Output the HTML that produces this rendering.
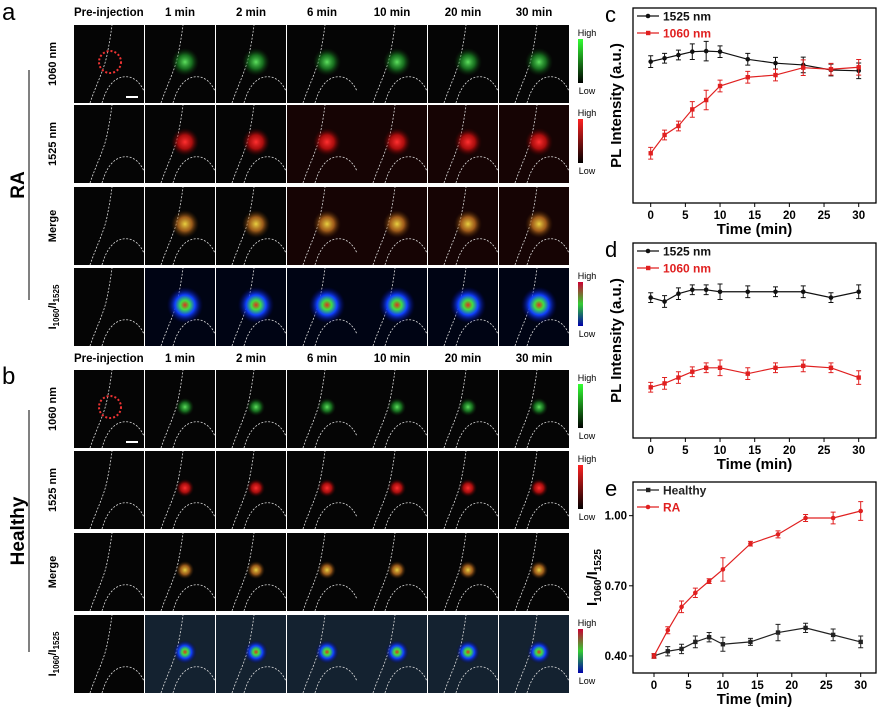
<!DOCTYPE html>
<html><head><meta charset="utf-8"><style>
body{margin:0;background:#fff}
svg{display:block;font-family:"Liberation Sans",Arial,sans-serif}
</style></head><body>
<svg id="fig" width="880" height="707" viewBox="0 0 880 707" xmlns="http://www.w3.org/2000/svg">
<defs>
<radialGradient id="gG"><stop offset="0" stop-color="#5ee05e"/><stop offset="0.5" stop-color="#1f9a2a" stop-opacity="0.7"/><stop offset="1" stop-color="#0a300a" stop-opacity="0"/></radialGradient>
<radialGradient id="gR"><stop offset="0" stop-color="#ff3030"/><stop offset="0.5" stop-color="#d01010" stop-opacity="0.8"/><stop offset="1" stop-color="#400000" stop-opacity="0"/></radialGradient>
<radialGradient id="gM"><stop offset="0" stop-color="#e8d040"/><stop offset="0.5" stop-color="#c07020" stop-opacity="0.8"/><stop offset="1" stop-color="#402000" stop-opacity="0"/></radialGradient>
<radialGradient id="gQ"><stop offset="0" stop-color="#e03020"/><stop offset="0.25" stop-color="#40e040"/><stop offset="0.55" stop-color="#1040ff"/><stop offset="1" stop-color="#000060" stop-opacity="0"/></radialGradient>
<linearGradient id="cbG" x1="0" y1="0" x2="0" y2="1"><stop offset="0" stop-color="#3f3"/><stop offset="1" stop-color="#000"/></linearGradient>
<linearGradient id="cbR" x1="0" y1="0" x2="0" y2="1"><stop offset="0" stop-color="#f22"/><stop offset="1" stop-color="#000"/></linearGradient>
<linearGradient id="cbQ" x1="0" y1="0" x2="0" y2="1"><stop offset="0" stop-color="#c03"/><stop offset="0.5" stop-color="#3c3"/><stop offset="1" stop-color="#00a"/></linearGradient>
</defs>
<g id="panels"></g>
<g id="charts"></g>
</svg>
<script>
const NS="http://www.w3.org/2000/svg";
const svg=document.getElementById('fig');
function mk(tag,attrs,parent,text){const e=document.createElementNS(NS,tag);for(const k in attrs)e.setAttribute(k,attrs[k]);if(text!==undefined)e.textContent=text;(parent||svg).appendChild(e);return e;}

// ---------- Image grid ----------
const colTitles=["Pre-injection","1 min","2 min","6 min","10 min","20 min","30 min"];
const rowLabels=["1060 nm","1525 nm","Merge","ratio"];
const colX=[74,145,216,287,357,428,499];
const rowsA=[25,105,187,268];
const rowsB=[370,451,533,615];
const fills=["gG","gR","gM","gQ"];
const cbFills=["cbG","cbR",null,"cbQ"];
const pg=document.getElementById('panels');
function block(rows,titleY,big,sizeScale,letter,letterY,group,lineY1,lineY2){
  const t=mk('text',{x:2,y:letterY,'font-size':24},pg,letter);
  
  colTitles.forEach((c,i)=>{const e=mk('text',{x:colX[i]+(i==0?0:35),y:titleY,'font-size':11.5,'font-weight':'bold','text-anchor':i==0?'start':'middle'},pg,c);
    });
  const g=mk('text',{transform:`translate(24,${(lineY1+lineY2)/2}) rotate(-90)`,'font-size':19,'font-weight':'bold','text-anchor':'middle'},pg,group);
  
  mk('line',{x1:29,x2:29,y1:lineY1,y2:lineY2,stroke:'#000','stroke-width':1},pg);
  rows.forEach((ry,r)=>{
    let lab;
    if(r<3){lab=mk('text',{transform:`translate(56,${ry+39}) rotate(-90)`,'font-size':11,'font-weight':'bold','text-anchor':'middle'},pg,rowLabels[r]);}
    else{lab=mk('text',{transform:`translate(56,${ry+39}) rotate(-90)`,'font-size':11,'font-weight':'bold','text-anchor':'middle'},pg);
      mk('tspan',{},lab,'I');mk('tspan',{'font-size':8,dy:3},lab,'1060');mk('tspan',{dy:-3},lab,'/I');mk('tspan',{'font-size':8,dy:3},lab,'1525');}
    
    colX.forEach((cx,c)=>{
      const p=mk('g',{},pg);
      
      let bg='#050505'; if(big&&r==3&&c>0)bg='#000414'; if(big&&r>0&&r<3&&c>2)bg='#160404';
      if(!big&&r==3&&c>0)bg='#142230';
      mk('rect',{x:cx,y:ry,width:70,height:78,fill:bg},p);
      mk('path',{d:`M${cx+16},${ry+78} C${cx+22},${ry+60} ${cx+30},${ry+45} ${cx+33},${ry+30} C${cx+36},${ry+15} ${cx+37},${ry+8} ${cx+38},${ry}`,fill:'none',stroke:'#ddd','stroke-width':0.8,'stroke-dasharray':'2 1.5'},p);
      mk('path',{d:`M${cx+28},${ry+78} C${cx+33},${ry+60} ${cx+42},${ry+50} ${cx+55},${ry+52} C${cx+64},${ry+54} ${cx+68},${ry+62} ${cx+70},${ry+66}`,fill:'none',stroke:'#ddd','stroke-width':0.8,'stroke-dasharray':'2 1.5'},p);
      if(c>0){const rr=(big?14:9)*(r==3?1.3:1);mk('circle',{cx:cx+40,cy:ry+37,r:rr,fill:`url(#${fills[r]})`},p);}
      if(c==0&&r==0){mk('circle',{cx:cx+36,cy:ry+37,r:11,fill:'none',stroke:'#e33','stroke-width':2,'stroke-dasharray':'2 2'},p);
        mk('line',{x1:cx+52,x2:cx+64,y1:ry+72,y2:ry+72,stroke:'#fff','stroke-width':2},p);}
    });
    if(cbFills[r]){const cb=mk('g',{},pg);
      mk('rect',{x:578,y:ry+14,width:5,height:44,fill:`url(#${cbFills[r]})`},cb);
      mk('text',{x:587,y:ry+11,'font-size':9,'text-anchor':'middle'},cb,'High');
      mk('text',{x:587,y:ry+69,'font-size':9,'text-anchor':'middle'},cb,'Low');}
  });
}
block(rowsA,16,true,1,'a',20,'RA',70,300);
block(rowsB,362,false,1,'b',384,'Healthy',410,652);

// ---------- Chart data ----------
const times=[0,2,4,6,8,10,14,18,22,26,30];
const c1525=[0.725,0.742,0.759,0.776,0.779,0.776,0.737,0.717,0.708,0.682,0.678];
const c1060=[0.255,0.349,0.395,0.48,0.528,0.6,0.645,0.656,0.694,0.686,0.696];
const cErr=[0.03,0.025,0.025,0.04,0.05,0.03,0.03,0.03,0.04,0.03,0.04];
const d1525=[0.72,0.70,0.74,0.76,0.76,0.75,0.75,0.75,0.75,0.72,0.75];
const d1060=[0.26,0.28,0.31,0.34,0.36,0.36,0.33,0.36,0.37,0.36,0.31];
const dErr=[0.025,0.03,0.03,0.025,0.025,0.04,0.03,0.025,0.03,0.025,0.035];
const eHealthy=[0.40,0.42,0.43,0.46,0.48,0.45,0.46,0.50,0.52,0.49,0.46];
const eRA=[0.40,0.51,0.61,0.67,0.72,0.77,0.88,0.92,0.99,0.99,1.02];
const eErrH=[0.01,0.02,0.02,0.025,0.02,0.03,0.015,0.035,0.02,0.025,0.025];
const eErrRA=[0.01,0.015,0.025,0.02,0.01,0.05,0.01,0.015,0.015,0.025,0.04];
const xTicks=[0,5,10,15,20,25,30];
const eYTicks=[0.40,0.70,1.00];

function chart(o){
  const g=mk('g',{},document.getElementById('charts'));
  
  const X=t=>o.x0+(t-0)/30*(o.x30-o.x0);
  const Y=v=>o.bot-(v-o.vmin)/(o.vmax-o.vmin)*(o.bot-o.top);
  mk('rect',{x:o.L,y:o.top,width:o.R-o.L,height:o.bot-o.top,fill:'none',stroke:'#000','stroke-width':1.3},g);
  xTicks.forEach(t=>{mk('line',{x1:X(t),x2:X(t),y1:o.bot,y2:o.bot+4,stroke:'#000'},g);
    const e=mk('text',{x:X(t),y:o.bot+16,'font-size':11.5,'font-weight':'bold','text-anchor':'middle'},g,t);
    });
  const xt=mk('text',{x:(o.L+o.R)/2,y:o.bot+31,'font-size':15,'font-weight':'bold','text-anchor':'middle'},g,'Time (min)');
  
  if(o.yticks){o.yticks.forEach(v=>{mk('line',{x1:o.L,x2:o.L-4,y1:Y(v),y2:Y(v),stroke:'#000'},g);
    const e=mk('text',{x:o.L-6,y:Y(v)+4,'font-size':11.5,'font-weight':'bold','text-anchor':'end'},g,v.toFixed(2));
    });
    const yt=mk('text',{transform:`translate(${o.L-36},${(o.top+o.bot)/2}) rotate(-90)`,'font-size':15,'font-weight':'bold','text-anchor':'middle'},g);
    mk('tspan',{},yt,'I');mk('tspan',{'font-size':10,dy:4},yt,'1060');mk('tspan',{dy:-4},yt,'/I');mk('tspan',{'font-size':10,dy:4},yt,'1525');
    
  } else {
    const yt=mk('text',{transform:`translate(${o.L-12},${(o.top+o.bot)/2}) rotate(-90)`,'font-size':15,'font-weight':'bold','text-anchor':'middle'},g,'PL Intensity (a.u.)');
    
  }
  const lt=mk('text',{x:o.L-28,y:o.top+14,'font-size':22},g,o.letter);
  
  o.series.forEach((s,si)=>{
    const pts=times.map((t,i)=>X(t)+','+Y(s.vals[i])).join(' ');
    const l=mk('polyline',{points:pts,fill:'none',stroke:s.color,'stroke-width':1.2},g);
    
    times.forEach((t,i)=>{
      const x=X(t),y1=Y(s.vals[i]-s.err[i]),y2=Y(s.vals[i]+s.err[i]);
      mk('path',{d:`M${x},${y1}V${y2}M${x-2.5},${y1}H${x+2.5}M${x-2.5},${y2}H${x+2.5}`,stroke:s.color,'stroke-width':1,fill:'none'},g);
      const m=s.shape=='sq'?mk('rect',{x:x-2.2,y:Y(s.vals[i])-2.2,width:4.4,height:4.4,fill:s.color},g):mk('circle',{cx:x,cy:Y(s.vals[i]),r:2.3,fill:s.color},g);
      
    });
    const ly=o.top+8+si*17;
    const le=mk('g',{},g);
    mk('line',{x1:o.L+4,x2:o.L+26,y1:ly,y2:ly,stroke:s.color,'stroke-width':1.3},le);
    if(s.shape=='sq')mk('rect',{x:o.L+13,y:ly-2.2,width:4.4,height:4.4,fill:s.color},le);else mk('circle',{cx:o.L+15,cy:ly,r:2.3,fill:s.color},le);
    mk('text',{x:o.L+30,y:ly+4.5,'font-size':12,'font-weight':'bold',fill:s.color},le,s.label);
  });
}
chart({name:'chart-c',letter:'c',L:633,R:876,top:8,bot:203,x0:650.7,x30:858.7,vmin:0,vmax:1,
  series:[{key:'1525',label:'1525 nm',color:'#111',vals:c1525,err:cErr,shape:'c'},{key:'1060',label:'1060 nm',color:'#e02020',vals:c1060,err:cErr,shape:'sq'}]});
chart({name:'chart-d',letter:'d',L:633,R:876,top:243,bot:438,x0:650.7,x30:858.7,vmin:0,vmax:1,
  series:[{key:'1525',label:'1525 nm',color:'#111',vals:d1525,err:dErr,shape:'c'},{key:'1060',label:'1060 nm',color:'#e02020',vals:d1060,err:dErr,shape:'sq'}]});
chart({name:'chart-e',letter:'e',L:633,R:876,top:482,bot:673,x0:654,x30:860.7,vmin:0.327,vmax:1.144,yticks:eYTicks,
  series:[{key:'healthy',label:'Healthy',color:'#222',vals:eHealthy,err:eErrH,shape:'sq'},{key:'ra',label:'RA',color:'#e02020',vals:eRA,err:eErrRA,shape:'c'}]});
</script>
</body></html>
